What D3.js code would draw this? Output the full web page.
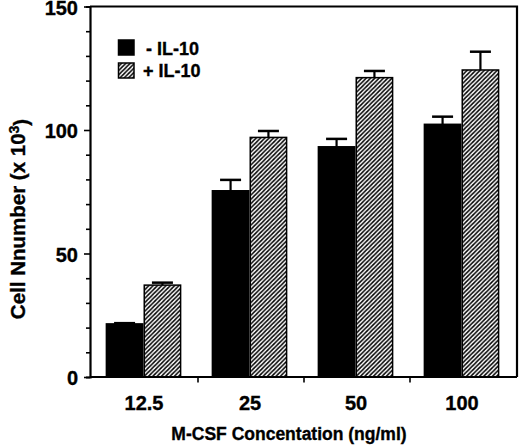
<!DOCTYPE html>
<html><head><meta charset="utf-8">
<script src="https://cdn.jsdelivr.net/npm/d3@7"></script>
<style>body{margin:0;background:#fff}svg{display:block}text{font-family:"Liberation Sans",Arial,sans-serif;font-weight:bold;fill:#000;stroke:#000;stroke-width:0.35px}</style>
</head><body>
<svg id="c" width="520" height="446"></svg>
<script>
const categories = ["12.5", "25", "50", "100"];
const seriesNames = ["- IL-10", "+ IL-10"];
const minusIL10 = [21.5, 75.4, 93.2, 102.3];
const minusIL10Err = [0.3, 4.4, 3.2, 3.1];
const plusIL10 = [37.2, 97.0, 121.2, 124.3];
const plusIL10Err = [1.0, 2.6, 2.7, 7.4];
const yTicks = [0, 50, 100, 150];

const svg = d3.select("#c");
const L = 90, R = 517, T = 6.5, B = 377;

const defs = svg.append("defs");
const pat = defs.append("pattern").attr("id","hatch").attr("patternUnits","userSpaceOnUse")
  .attr("width",4.3).attr("height",4.3);
pat.append("rect").attr("width",4.3).attr("height",4.3).attr("fill","#fff");
pat.append("path").attr("d","M-1,1.075 L1.075,-1 M0,4.3 L4.3,0 M3.225,5.3 L5.3,3.225")
  .attr("stroke","#000").attr("stroke-width",1.5);

const y = d3.scaleLinear().domain([0,150]).range([B,T]);
const x0 = d3.scaleBand().domain(categories).range([90.5,514.5]).padding(0);
const x1 = d3.scaleBand().domain(seriesNames).range([0,x0.bandwidth()]).paddingInner(0).paddingOuter(0.4);

const data = categories.map((c,i)=>({c, vals:[
  {s:seriesNames[0], v:minusIL10[i], e:minusIL10Err[i]},
  {s:seriesNames[1], v:plusIL10[i], e:plusIL10Err[i]}]}));

const fills = {"- IL-10":"#000","+ IL-10":"url(#hatch)"};

const g = svg.append("g");
const grp = g.selectAll("g.grp").data(data).join("g").attr("transform",d=>`translate(${x0(d.c)},0)`);
grp.selectAll("g.err").data(d=>d.vals).join("g").each(function(d){
  const gg = d3.select(this);
  const cx = x1(d.s)+x1.bandwidth()/2;
  gg.append("line").attr("x1",cx).attr("x2",cx).attr("y1",y(d.v)).attr("y2",y(d.v+d.e)).attr("stroke","#000").attr("stroke-width",2.2);
  gg.append("line").attr("x1",cx-10.5).attr("x2",cx+10.5).attr("y1",y(d.v+d.e)).attr("y2",y(d.v+d.e)).attr("stroke","#000").attr("stroke-width",2.5);
});
grp.selectAll("rect").data(d=>d.vals).join("rect")
  .attr("x",d=>x1(d.s)+0.75).attr("width",x1.bandwidth()-1.5)
  .attr("y",d=>y(d.v)).attr("height",d=>B-y(d.v))
  .attr("fill",d=>fills[d.s]).attr("stroke","#000").attr("stroke-width",1.5);

svg.append("path").attr("d",`M${L},${T}H${R}V${B}`).attr("fill","none").attr("stroke","#000").attr("stroke-width",2.2);

const yAxis = d3.axisLeft(y).tickValues(d3.range(0,151,10)).tickSize(4).tickFormat("");
const ya = svg.append("g").attr("transform",`translate(${L},0)`).call(yAxis);
ya.select(".domain").attr("stroke-width",2.2);
ya.selectAll(".tick line").attr("stroke-width",1.6).attr("x2",d=>yTicks.includes(d)?-6:-4);
svg.append("g").selectAll("text").data(yTicks).join("text")
  .attr("x",78).attr("y",d=>y(d)).attr("dy","0.42em").attr("text-anchor","end")
  .style("font-size","20px").text(d=>d);

const xa = svg.append("g").attr("transform",`translate(0,${B})`);
xa.append("line").attr("x1",L).attr("x2",R).attr("stroke","#000").attr("stroke-width",2.2);
xa.selectAll("line.t").data(categories.slice(1)).join("line").attr("class","t")
  .attr("x1",d=>x0(d)+1.5).attr("x2",d=>x0(d)+1.5).attr("y1",0).attr("y2",5.5).attr("stroke","#000").attr("stroke-width",1.6);
xa.selectAll("text").data(categories).join("text")
  .attr("x",d=>x0(d)+x0.bandwidth()/2+0.5).attr("y",33).attr("text-anchor","middle")
  .style("font-size","20px").text(d=>d);

svg.append("text").attr("x",289).attr("y",440).attr("text-anchor","middle").style("font-size","17.5px")
  .text("M-CSF Concentation (ng/ml)");
const yt = svg.append("text").attr("transform","translate(25,219) rotate(-90)").attr("text-anchor","middle").style("font-size","20.5px");
yt.append("tspan").text("Cell Nnumber (x 10");
yt.append("tspan").attr("dy","-0.45em").style("font-size","14px").text("3");
yt.append("tspan").attr("dy","0.45em").text(")");

const lg = svg.append("g");
lg.selectAll("rect").data(seriesNames).join("rect")
  .attr("x",118.5).attr("y",(d,i)=>40+i*23).attr("width",15.5).attr("height",15)
  .attr("fill",d=>fills[d]).attr("stroke","#000").attr("stroke-width",1.5);
lg.selectAll("text").data(seriesNames).join("text")
  .attr("x",(d,i)=>i===0?146:143).attr("y",(d,i)=>55+i*22).style("font-size","18px")
  .text(d=>d);
</script>
</body></html>
